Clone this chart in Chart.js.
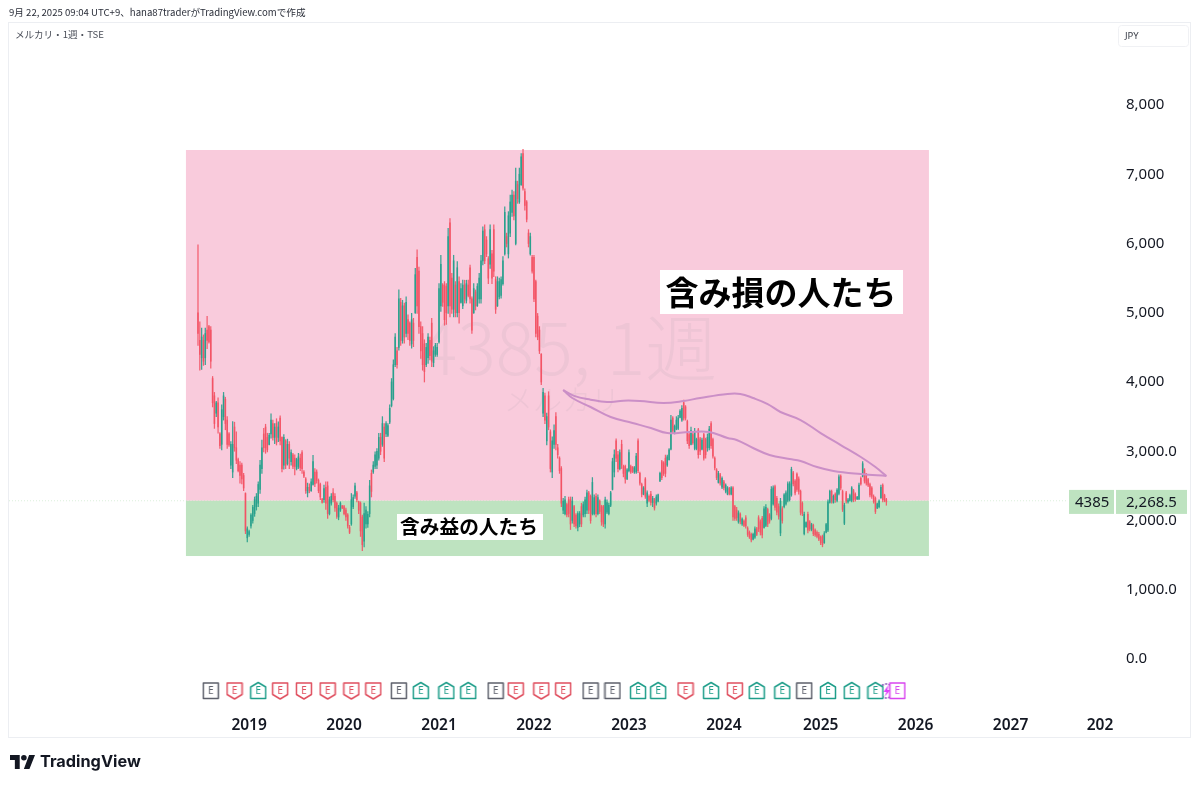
<!DOCTYPE html>
<html lang="ja">
<head>
<meta charset="utf-8">
<title>メルカリ 1週</title>
<script src="https://cdn.jsdelivr.net/npm/chart.js@4/dist/chart.umd.min.js"></script>
<style>
  html, body { margin: 0; background: #fff; }
  #wrap { position: relative; width: 1200px; height: 787px; overflow: hidden; }
  canvas { position: absolute; left: 0; top: 0; }
  .cap { position: absolute; white-space: nowrap; font-family: "Noto Sans CJK JP", "Noto Sans", sans-serif; }
  #stamp { left: 9px; top: 5px; font-size: 9.6px; color: #2a2e39; }
  #symbol { left: 15px; top: 27px; font-size: 9.6px; color: #4a4e58; }
  #logoText { left: 40px; top: 751px; font: 700 16.3px Inter, sans-serif; color: #131722; }
  #logoMark { position: absolute; left: 10px; top: 755px; }
</style>
</head>
<body>
<div id="wrap">
  <canvas id="chart" width="1200" height="787"></canvas>
  <div class="cap" id="stamp">9月 22, 2025 09:04 UTC+9、hana87traderがTradingView.comで作成</div>
  <div class="cap" id="symbol">メルカリ・1週・TSE</div>
  <svg id="logoMark" width="25" height="14" viewBox="0 0 36 20"><path fill="#131722" d="M14 20H7V7H0V0h14zM28 20h-8l7.5-20h8.500z"/><circle fill="#131722" cx="20" cy="4" r="4"/></svg>
  <div class="cap" id="logoText">TradingView</div>
</div>
<script>
// weekly bars (June 2018 onwards)
const highs = [
  5980,4870,4780,4680,4780,4950,4820,4800,4080,3850,
  3720,3770,3270,3670,3850,3780,3500,3270,3140,3430,
  3420,3280,2900,2850,2830,2680,2400,1910,1860,2100,
  2220,2340,2390,2560,2870,3160,3330,3390,3260,3260,
  3540,3450,3400,3470,3425,3510,3210,3240,3170,3175,
  3140,3020,2970,2950,2900,2970,2960,3010,2720,2620,
  2540,2530,2600,2940,2750,2730,2600,2540,2320,2510,
  2560,2560,2340,2390,2460,2390,2270,2220,2270,2220,
  2220,2180,2100,1930,2390,2370,2540,2420,2280,2270,
  2080,2250,2200,2130,2580,2730,2850,2990,3040,3260,
  3260,3500,3400,3430,3400,3670,4050,4320,4700,4500,
  5330,5210,5180,5140,5230,4970,4870,4990,4920,5640,
  5910,5660,4870,4800,4610,4560,4700,4650,4920,4510,
  4560,4560,5420,5830,5420,5450,5420,6220,6360,5570,
  5830,5450,5740,5520,5420,5470,5470,5470,5470,5690,
  5230,5420,5330,5420,5570,5830,6240,6270,6100,5810,
  6270,5900,6270,5520,5520,5500,5520,5810,6530,6150,
  6460,6700,6770,6750,7090,6900,7090,7300,7360,6790,
  6620,6200,6150,5830,5830,5470,4990,4800,4410,3910,
  3840,3550,3860,3310,3210,3380,3560,3100,2920,2780,
  2320,2350,2250,2340,2340,2340,2220,2100,2130,2130,
  2250,2270,2340,2440,2420,2370,2620,2370,2390,2370,
  2300,2220,2220,2340,2300,2250,2420,2900,3020,3180,
  3000,3020,3160,2800,2800,2750,3020,2800,2780,2780,
  2970,3180,2700,2540,2490,2620,2430,2370,2420,2350,
  2320,2370,2380,2700,2870,2850,2945,2945,3040,3520,
  3500,3380,3500,3520,3600,3660,3740,3660,3450,3260,
  3350,3260,3330,3190,3330,3200,3190,3260,3190,3250,
  3360,3430,3190,2920,2750,2710,2680,2630,2580,2530,
  2490,2480,2490,2490,2220,2190,2140,2110,2040,2010,
  2070,1910,1850,1820,1820,1910,1900,2070,2010,2060,
  2200,2230,2180,2100,2490,2500,2510,2350,2240,2320,
  2200,2390,2430,2560,2560,2770,2710,2590,2690,2630,
  2440,2270,2120,1980,2120,2000,1960,1950,1880,1850,
  1830,1780,1790,1840,1960,2300,2440,2440,2370,2400,
  2460,2660,2660,2440,2250,2420,2320,2380,2490,2450,
  2400,2350,2540,2630,2850,2750,2680,2610,2540,2490,
  2370,2340,2250,2300,2510,2530,2380,2320
];
const lows = [
  4530,4170,4180,4240,4250,4480,4560,4200,3640,3330,
  3500,3260,3040,3020,3450,3310,3040,3070,2750,2620,
  3000,2820,2700,2540,2530,2430,1810,1690,1770,1890,
  1960,2060,2150,2200,2390,2680,2990,2970,2990,3090,
  3190,3160,3110,3090,3140,3090,2700,2740,2750,2800,
  2750,2800,2750,2660,2730,2750,2720,2680,2620,2390,
  2340,2400,2420,2510,2490,2540,2400,2300,2250,2260,
  2160,2030,2080,2220,2270,2130,2030,2010,2130,2170,
  2080,2000,1890,1810,1930,2170,2320,2270,2100,1770,
  1565,1620,1890,1900,2050,2340,2680,2750,2750,2870,
  2950,3070,2850,3210,3210,3400,3640,3740,4220,4200,
  4460,4530,4560,4560,4650,4610,4530,4490,4510,4990,
  4990,4700,4340,4170,4000,4220,4270,4320,4220,4220,
  4370,4370,4560,5020,5090,4820,4830,4990,4940,4990,
  4940,4940,4940,4850,5140,5060,5140,5140,5230,5140,
  4700,4990,5040,5090,5140,5140,5690,5710,5810,5420,
  5640,5420,5520,4990,5090,5200,5210,5400,5830,5950,
  5790,6100,6390,6340,5980,6580,6580,6840,6770,6480,
  6310,5950,5830,5570,5160,4650,4610,4410,3960,3500,
  3400,3090,3310,2700,2620,3040,3020,2900,2680,2200,
  2100,2080,2050,2050,1870,1960,1910,1890,1850,1910,
  1910,2050,2050,2100,2100,1960,2080,2080,2050,2080,
  2100,1930,1910,1890,2100,2080,2200,2440,2630,2850,
  2700,2730,2750,2630,2540,2590,2700,2680,2690,2680,
  2680,2690,2510,2340,2370,2320,2200,2270,2220,2200,
  2150,2220,2270,2560,2590,2650,2630,2780,2870,3020,
  3260,3250,3310,3310,3480,3430,3450,3450,3110,3040,
  3090,3100,3020,3020,2900,2950,3020,2870,2900,3000,
  3020,3040,2900,2730,2590,2540,2510,2460,2440,2400,
  2370,2370,2370,2000,2000,2000,1960,1950,1930,1910,
  1890,1770,1740,1690,1720,1740,1780,1840,1790,1750,
  1890,1910,1910,1960,2010,2220,2150,2080,2020,1780,
  1960,2180,2220,2270,2280,2350,2500,2370,2420,2380,
  2080,2070,1790,1900,1820,1850,1850,1780,1770,1750,
  1710,1650,1620,1670,1820,1840,2250,2250,2250,2260,
  2270,2370,2440,2130,1940,2250,2250,2280,2270,2270,
  2280,2300,2300,2510,2630,2540,2510,2490,2340,2320,
  2250,2100,2170,2180,2320,2270,2270,2220
];
const opens = [
  5000,4600,4350,4600,4350,4750,4800,4750,4050,3800,
  3550,3700,3250,3100,3500,3750,3450,3250,2800,2700,
  3350,3050,2880,2800,2800,2650,2390,1750,1800,1920,
  2000,2100,2200,2250,2450,2750,3250,3350,3200,3100,
  3250,3400,3200,3400,3200,3480,3200,2800,3150,2820,
  3100,2850,2950,2900,2750,2780,2900,2980,2700,2600,
  2400,2480,2430,2520,2700,2700,2580,2520,2310,2300,
  2480,2500,2100,2250,2400,2350,2250,2050,2150,2210,
  2200,2150,2080,1900,1950,2200,2350,2400,2270,2250,
  2050,1700,1950,1950,2100,2680,2700,2780,2800,2900,
  3200,3100,3350,3250,3230,3420,3660,3760,4250,4450,
  4500,5150,4600,5100,4700,4900,4850,4550,4850,5000,
  5800,5600,4800,4700,4550,4250,4350,4600,4850,4280,
  4400,4400,4580,5100,5400,5400,5380,5100,6300,5500,
  5050,5400,5000,5450,5150,5100,5400,5180,5400,5650,
  5200,5000,5300,5100,5200,5200,5750,6200,6050,5780,
  5700,5850,6200,5480,5100,5230,5250,5420,5850,6100,
  5850,6150,6450,6700,6000,6850,6600,6850,7300,6750,
  6600,6150,5850,5800,5800,5450,4950,4750,4400,3550,
  3800,3150,3800,3280,2700,3100,3500,3050,2900,2750,
  2150,2100,2230,2300,2300,2000,2200,2080,1900,1950,
  2200,2080,2100,2150,2400,2350,2100,2100,2350,2100,
  2280,2200,2200,1950,2120,2100,2220,2450,2700,3150,
  2950,2750,3100,2780,2780,2600,2720,2780,2770,2700,
  2700,3150,2680,2520,2380,2600,2250,2350,2380,2260,
  2300,2250,2280,2570,2850,2830,2900,2800,2880,3030,
  3480,3270,3320,3330,3490,3450,3700,3640,3430,3240,
  3100,3240,3040,3040,3310,3180,3030,3240,3170,3050,
  3050,3400,3170,2900,2730,2550,2660,2480,2560,2420,
  2380,2460,2380,2470,2200,2150,1980,2090,1950,1990,
  2040,1890,1830,1800,1730,1760,1880,2040,1980,2030,
  1900,1930,2160,2080,2030,2240,2490,2320,2200,1820,
  2170,2200,2240,2290,2300,2370,2690,2570,2670,2600,
  2420,2250,1810,1910,2090,1980,1870,1930,1860,1830,
  1800,1760,1770,1680,1830,1860,2260,2420,2260,2380,
  2290,2390,2640,2420,1960,2400,2270,2290,2290,2430,
  2380,2310,2310,2610,2640,2730,2660,2590,2520,2470,
  2350,2320,2180,2200,2330,2510,2360,2300
];
const closes = [
  4700,4400,4650,4300,4700,4600,4580,4300,3700,3400,
  3700,3350,3080,3600,3800,3400,3100,3090,3100,3100,
  3050,2870,2720,2650,2600,2470,1850,1880,1840,2080,
  2190,2300,2350,2520,2800,3050,3050,3050,3020,3230,
  3450,3200,3350,3130,3350,3150,2750,3200,2800,3100,
  2900,2980,2780,2780,2880,2920,2760,2750,2640,2430,
  2480,2430,2560,2850,2530,2580,2430,2340,2260,2460,
  2250,2100,2300,2350,2300,2180,2060,2180,2250,2180,
  2100,2050,1920,1830,2300,2330,2500,2300,2150,1850,
  1650,2100,2150,2090,2500,2420,2800,2950,3000,3200,
  3000,3400,2900,3400,3370,3620,4000,4250,4650,4250,
  5200,4600,5100,4650,5150,4700,4600,4900,4600,5550,
  5100,4800,4450,4250,4150,4500,4650,4380,4300,4450,
  4530,4500,5350,5700,5150,4900,5000,6100,5100,5050,
  5750,5000,5650,5000,5350,5400,5200,5420,5250,5200,
  4750,5350,5100,5380,5500,5750,6180,5750,5850,5500,
  6200,5500,5600,5050,5450,5450,5480,5750,6450,6000,
  6400,6600,6700,6400,6900,6650,7000,7250,6800,6550,
  6350,6000,6100,5600,5200,4700,4650,4450,4000,3850,
  3450,3500,3350,2750,3150,3300,3100,2950,2720,2250,
  2280,2300,2080,2100,1950,2280,1950,1920,2100,2100,
  1950,2230,2300,2400,2150,2000,2550,2330,2100,2330,
  2130,1980,1950,2300,2260,2220,2400,2850,2950,2900,
  2750,2980,2800,2680,2600,2730,2980,2700,2710,2760,
  2930,2720,2540,2380,2470,2350,2400,2290,2260,2320,
  2180,2340,2370,2680,2620,2680,2680,2920,3020,3450,
  3300,3360,3450,3480,3580,3620,3480,3480,3150,3080,
  3300,3120,3280,3170,2950,3000,3160,2900,2950,3200,
  3320,3080,2930,2760,2620,2680,2540,2610,2470,2510,
  2470,2390,2470,2050,2030,2040,2110,1990,2020,1930,
  1920,1800,1760,1720,1800,1880,1800,1880,1830,1790,
  2170,2190,1950,1990,2450,2470,2190,2120,2060,2280,
  2000,2370,2400,2530,2530,2740,2530,2400,2450,2420,
  2120,2100,2090,1970,1860,1880,1940,1810,1790,1770,
  1730,1680,1650,1810,1940,2270,2420,2280,2350,2300,
  2440,2630,2470,2160,2220,2280,2300,2360,2470,2300,
  2310,2340,2510,2530,2820,2570,2540,2510,2370,2350,
  2270,2130,2240,2280,2480,2300,2290,2268.5
];

// two hand drawn curves on top of the price
const upperWeeks = [200,206,215,224,233,242,255,266,275,290,297,304,312,319,330,341,352,363,371,377];
const upperPrices = [3884,3800,3745,3711,3730,3726,3697,3726,3769,3827,3827,3769,3682,3567,3451,3263,3090,2917,2772,2643];
const lowerWeeks = [200,205,215,226,238,248,257,269,280,290,295,304,313,324,330,339,348,363,377];
const lowerPrices = [3884,3769,3639,3495,3408,3336,3263,3278,3278,3191,3162,3047,2946,2888,2859,2772,2715,2671,2643];

// earnings markers by result
const neutralEarnings = [7,110,163,215,227,332];
const missEarnings = [20,45,58,71,84,96,174,188,200,267,294];
const beatEarnings = [33,122,136,148,241,252,281,306,320,345,358,371];
const upcomingEarnings = [383];
const dividendWeeks = [377];

// axes
const yearWeeks = [28,80,132,184,236,288,341,393,445,494];
const yearLabels = ['2019','2020','2021','2022','2023','2024','2025','2026','2027','202'];
const priceTicks = [0,1000,2000,3000,4000,5000,6000,7000,8000];
const priceLabels = ['0.0','1,000.0','2,000.0','3,000.0','4,000','5,000','6,000','7,000','8,000'];

// shaded zones around the last price
const zoneStart = -6.6, zoneEnd = 400.3;
const zoneTop = 7350, zoneSplit = 2285, zoneBottom = 1487;
const lastPrice = 2268.5;

const RED = 'rgba(243,82,100,0.9)', GREEN = 'rgba(38,160,140,0.9)';
const barColors = closes.map((c, i) => c >= opens[i] ? GREEN : RED);
const weeks = closes.map((c, i) => i);

function earningsIcon(color, shape) {
  const c = document.createElement('canvas');
  c.width = 18; c.height = 20;
  const g = c.getContext('2d');
  g.strokeStyle = color;
  g.fillStyle = '#fff';
  g.lineWidth = 1.5;
  g.lineJoin = 'round';
  g.beginPath();
  if (shape === 'miss') {
    g.moveTo(1.5,2); g.lineTo(16.5,2); g.lineTo(16.5,13.5); g.lineTo(9,18); g.lineTo(1.5,13.5);
  } else if (shape === 'beat') {
    g.moveTo(9,1.5); g.lineTo(16.5,6); g.lineTo(16.5,17.5); g.lineTo(1.5,17.5); g.lineTo(1.5,6);
  } else {
    g.rect(1.5,2,15,15.5);
  }
  g.closePath();
  g.fill();
  g.stroke();
  g.fillStyle = color;
  g.font = '10px "Noto Sans", sans-serif';
  g.textAlign = 'center';
  g.textBaseline = 'middle';
  g.fillText('E', 9, 10);
  return c;
}

function dividendIcon() {
  const c = document.createElement('canvas');
  c.width = 18; c.height = 20;
  const g = c.getContext('2d');
  g.strokeStyle = '#7b3fb0';
  g.lineWidth = 1.5;
  g.setLineDash([2,1.5]);
  g.beginPath();
  g.arc(9,10,7,0,Math.PI*2);
  g.stroke();
  g.fillStyle = '#e040fb';
  g.beginPath();
  g.moveTo(11,4); g.lineTo(6,11); g.lineTo(9,11); g.lineTo(7,16); g.lineTo(13,9); g.lineTo(10,9);
  g.closePath();
  g.fill();
  return c;
}

const EARNINGS_ROW = -462;
const rowPoints = xs => xs.map(x => ({x: x, y: EARNINGS_ROW}));

const backdrop = {
  id: 'backdrop',
  beforeDraw(chart) {
    const g = chart.ctx;
    g.save();
    g.strokeStyle = '#eceef2';
    g.lineWidth = 1;
    g.strokeRect(8.5, 22.5, 1182, 715);
    // JPY box
    g.strokeStyle = '#f0f1f4';
    g.beginPath();
    g.roundRect(1118.5, 25.5, 70, 21, 3);
    g.stroke();
    g.fillStyle = '#3a3e48';
    g.font = '9.5px "Noto Sans", sans-serif';
    g.textBaseline = 'middle';
    g.fillText('JPY', 1125, 36);
    g.restore();
  },
  beforeDatasetsDraw(chart) {
    const g = chart.ctx, x = chart.scales.x, y = chart.scales.y;
    const left = x.getPixelForValue(zoneStart), right = x.getPixelForValue(zoneEnd);
    const top = y.getPixelForValue(zoneTop), mid = y.getPixelForValue(zoneSplit), bottom = y.getPixelForValue(zoneBottom);
    g.save();
    g.fillStyle = '#f9cbdc';
    g.fillRect(left, top, right - left, mid - top);
    g.fillStyle = '#bee3c0';
    g.fillRect(left, mid, right - left, bottom - mid);
    // watermark
    g.fillStyle = 'rgba(120,123,134,0.08)';
    g.textAlign = 'center';
    g.textBaseline = 'middle';
    g.font = '300 72px "Noto Sans CJK JP", sans-serif';
    g.fillText('4385, 1週', 568, 348);
    g.font = '300 29px "Noto Sans CJK JP", sans-serif';
    g.fillText('メルカリ', 562, 400);
    // last price guide
    g.strokeStyle = 'rgba(190,227,192,0.55)';
    g.setLineDash([1,2]);
    g.beginPath();
    g.moveTo(chart.chartArea.left, mid);
    g.lineTo(1068, mid);
    g.stroke();
    g.restore();
  },
  afterDraw(chart) {
    const g = chart.ctx, y = chart.scales.y;
    const mid = y.getPixelForValue(lastPrice);
    g.save();
    // price tags
    g.fillStyle = '#bee3c0';
    g.fillRect(1069, mid - 12, 45, 24);
    g.fillRect(1116, mid - 12, 71, 24);
    g.fillStyle = '#131722';
    g.font = '15px "Noto Sans", sans-serif';
    g.textBaseline = 'middle';
    g.fillText('4385', 1075, mid + 1);
    g.fillText('2,268.5', 1126, mid + 1);
    // annotations
    g.textAlign = 'center';
    g.fillStyle = '#fff';
    g.fillRect(660, 270, 243, 44);
    g.fillRect(397, 514, 146, 26);
    g.fillStyle = '#000';
    g.font = 'bold 33px "Noto Sans CJK JP", sans-serif';
    g.fillText('含み損の人たち', 781, 292);
    g.font = 'bold 19.7px "Noto Sans CJK JP", sans-serif';
    g.fillText('含み益の人たち', 469, 527);
    g.restore();
  }
};

new Chart(document.getElementById('chart'), {
  type: 'bar',
  plugins: [backdrop],
  data: {
    datasets: [
      {
        label: 'bodies',
        data: weeks.map(i => ({x: i, y: [opens[i], closes[i]]})),
        backgroundColor: barColors,
        barThickness: 0.9,
        maxBarThickness: 0.9,
        grouped: false,
        order: 3
      },
      {
        label: 'wicks',
        data: weeks.map(i => ({x: i, y: [lows[i], highs[i]]})),
        backgroundColor: barColors,
        barThickness: 0.6,
        maxBarThickness: 0.6,
        grouped: false,
        order: 4
      },
      {
        type: 'line',
        label: 'upper',
        data: upperWeeks.map((w, i) => ({x: w, y: upperPrices[i]})),
        borderColor: '#cb8fc7',
        borderWidth: 2,
        pointRadius: 0,
        tension: 0.4,
        order: 2
      },
      {
        type: 'line',
        label: 'lower',
        data: lowerWeeks.map((w, i) => ({x: w, y: lowerPrices[i]})),
        borderColor: '#cb8fc7',
        borderWidth: 2,
        pointRadius: 0,
        tension: 0.4,
        order: 2
      },
      {type: 'scatter', label: 'dividend', data: rowPoints(dividendWeeks), pointStyle: dividendIcon(), order: 1},
      {type: 'scatter', label: 'neutral', data: rowPoints(neutralEarnings), pointStyle: earningsIcon('#5d606b', 'neutral'), order: 0},
      {type: 'scatter', label: 'miss', data: rowPoints(missEarnings), pointStyle: earningsIcon('#e04f5f', 'miss'), order: 0},
      {type: 'scatter', label: 'beat', data: rowPoints(beatEarnings), pointStyle: earningsIcon('#1f9e8a', 'beat'), order: 0},
      {type: 'scatter', label: 'upcoming', data: rowPoints(upcomingEarnings), pointStyle: earningsIcon('#d946ef', 'neutral'), order: 0}
    ]
  },
  options: {
    responsive: false,
    animation: false,
    devicePixelRatio: 1,
    layout: {padding: {left: 9, top: 22, right: 9, bottom: 49}},
    plugins: {legend: {display: false}, tooltip: {enabled: false}},
    scales: {
      x: {
        type: 'linear',
        offset: false,
        min: -103.5,
        max: 502.2,
        border: {display: false},
        grid: {display: false},
        afterBuildTicks(axis) { axis.ticks = yearWeeks.map(v => ({value: v})); },
        afterFit(axis) { axis.height = 32; },
        ticks: {
          autoSkip: false,
          maxRotation: 0,
          padding: 2,
          color: '#131722',
          font: {family: '"Noto Sans", sans-serif', size: 15.5, weight: '600'},
          callback: (value, index) => yearLabels[index]
        }
      },
      y: {
        position: 'right',
        min: -678.7,
        max: 9198.6,
        border: {display: false},
        grid: {display: false, drawTicks: false},
        afterBuildTicks(axis) { axis.ticks = priceTicks.map(v => ({value: v})); },
        afterFit(axis) { axis.width = 76; },
        ticks: {
          padding: 11,
          color: '#131722',
          font: {family: '"Noto Sans", sans-serif', size: 15},
          callback: (value, index) => priceLabels[index]
        }
      }
    }
  }
});
</script>
</body>
</html>
